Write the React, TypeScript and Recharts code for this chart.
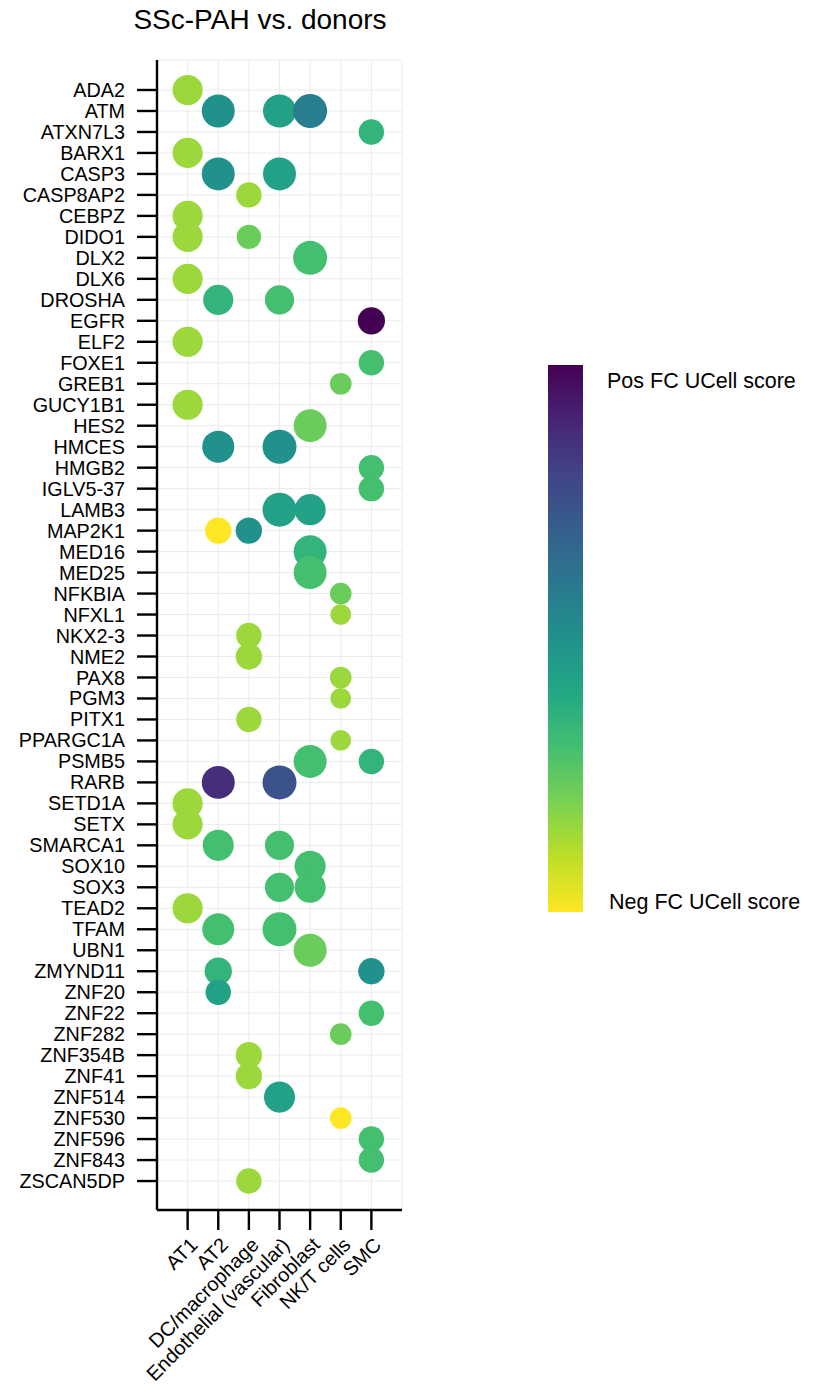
import { ScatterChart, Scatter, XAxis, YAxis, ZAxis, CartesianGrid, Cell } from 'recharts';

const FONT = '"Liberation Sans", Arial, sans-serif';

const genes = [
  'ADA2', 'ATM', 'ATXN7L3', 'BARX1', 'CASP3', 'CASP8AP2', 'CEBPZ', 'DIDO1', 'DLX2', 'DLX6',
  'DROSHA', 'EGFR', 'ELF2', 'FOXE1', 'GREB1', 'GUCY1B1', 'HES2', 'HMCES', 'HMGB2', 'IGLV5-37',
  'LAMB3', 'MAP2K1', 'MED16', 'MED25', 'NFKBIA', 'NFXL1', 'NKX2-3', 'NME2', 'PAX8', 'PGM3',
  'PITX1', 'PPARGC1A', 'PSMB5', 'RARB', 'SETD1A', 'SETX', 'SMARCA1', 'SOX10', 'SOX3', 'TEAD2',
  'TFAM', 'UBN1', 'ZMYND11', 'ZNF20', 'ZNF22', 'ZNF282', 'ZNF354B', 'ZNF41', 'ZNF514', 'ZNF530',
  'ZNF596', 'ZNF843', 'ZSCAN5DP',
];

const cellTypes = ['AT1', 'AT2', 'DC/macrophage', 'Endothelial (vascular)', 'Fibroblast', 'NK/T cells', 'SMC'];

// one entry per dot: gene, cell type, colour score (0 = pos FC / purple, 1 = neg FC / yellow), dot size value
const dotGene = [
  'ADA2', 'ATM', 'ATM', 'ATM', 'ATXN7L3', 'BARX1', 'CASP3', 'CASP3', 'CASP8AP2', 'CEBPZ',
  'DIDO1', 'DIDO1', 'DLX2', 'DLX6', 'DROSHA', 'DROSHA', 'EGFR', 'ELF2', 'FOXE1', 'GREB1',
  'GUCY1B1', 'HES2', 'HMCES', 'HMCES', 'HMGB2', 'IGLV5-37', 'LAMB3', 'LAMB3', 'MAP2K1', 'MAP2K1',
  'MED16', 'MED25', 'NFKBIA', 'NFXL1', 'NKX2-3', 'NME2', 'PAX8', 'PGM3', 'PITX1', 'PPARGC1A',
  'PSMB5', 'PSMB5', 'RARB', 'RARB', 'SETD1A', 'SETX', 'SMARCA1', 'SMARCA1', 'SOX10', 'SOX3',
  'SOX3', 'TEAD2', 'TFAM', 'TFAM', 'UBN1', 'ZMYND11', 'ZMYND11', 'ZNF20', 'ZNF22', 'ZNF282',
  'ZNF354B', 'ZNF41', 'ZNF514', 'ZNF530', 'ZNF596', 'ZNF843', 'ZSCAN5DP',
];
const dotCell = [
  'AT1', 'AT2', 'Endothelial (vascular)', 'Fibroblast', 'SMC', 'AT1', 'AT2', 'Endothelial (vascular)', 'DC/macrophage', 'AT1',
  'AT1', 'DC/macrophage', 'Fibroblast', 'AT1', 'AT2', 'Endothelial (vascular)', 'SMC', 'AT1', 'SMC', 'NK/T cells',
  'AT1', 'Fibroblast', 'AT2', 'Endothelial (vascular)', 'SMC', 'SMC', 'Endothelial (vascular)', 'Fibroblast', 'AT2', 'DC/macrophage',
  'Fibroblast', 'Fibroblast', 'NK/T cells', 'NK/T cells', 'DC/macrophage', 'DC/macrophage', 'NK/T cells', 'NK/T cells', 'DC/macrophage', 'NK/T cells',
  'Fibroblast', 'SMC', 'AT2', 'Endothelial (vascular)', 'AT1', 'AT1', 'AT2', 'Endothelial (vascular)', 'Fibroblast', 'Endothelial (vascular)',
  'Fibroblast', 'AT1', 'AT2', 'Endothelial (vascular)', 'Fibroblast', 'AT2', 'SMC', 'AT2', 'SMC', 'NK/T cells',
  'DC/macrophage', 'DC/macrophage', 'Endothelial (vascular)', 'NK/T cells', 'SMC', 'SMC', 'DC/macrophage',
];
const dotScore = [
  0.85, 0.5, 0.57, 0.42, 0.65, 0.85, 0.5, 0.57, 0.85, 0.85,
  0.85, 0.77, 0.7, 0.85, 0.65, 0.7, 0.0, 0.85, 0.7, 0.77,
  0.85, 0.77, 0.5, 0.5, 0.7, 0.7, 0.57, 0.57, 1.0, 0.5,
  0.65, 0.7, 0.77, 0.85, 0.85, 0.85, 0.85, 0.85, 0.85, 0.85,
  0.7, 0.65, 0.13, 0.25, 0.85, 0.85, 0.7, 0.7, 0.7, 0.7,
  0.7, 0.85, 0.7, 0.7, 0.77, 0.65, 0.5, 0.57, 0.7, 0.77,
  0.85, 0.85, 0.57, 1.0, 0.7, 0.7, 0.85,
];
const dotSize = [
  2.96, 3.7, 3.7, 4.0, 1.85, 2.96, 3.7, 3.7, 1.85, 2.96,
  2.96, 1.65, 4.0, 2.96, 2.96, 2.72, 2.27, 2.96, 1.85, 1.1,
  2.96, 3.7, 3.45, 4.0, 1.85, 1.85, 4.0, 3.2, 2.05, 2.05,
  3.7, 3.7, 1.1, 0.95, 1.85, 2.05, 1.1, 0.95, 1.85, 0.95,
  3.7, 1.85, 3.7, 4.0, 2.96, 2.96, 3.2, 2.72, 3.2, 2.72,
  3.2, 2.96, 3.45, 4.0, 3.7, 2.27, 2.05, 1.85, 1.85, 1.1,
  2.05, 2.05, 3.2, 1.1, 1.85, 1.85, 1.85,
];

const VIRIDIS = ['#440154', '#482475', '#414487', '#355f8d', '#2a788e', '#21918c', '#22a884', '#44bf70', '#7ad151', '#bddf26', '#fde725'];

function hexToRgb(h: string) {
  const n = parseInt(h.slice(1), 16);
  return [(n >> 16) & 255, (n >> 8) & 255, n & 255];
}

function viridis(t: number) {
  const v = Math.max(0, Math.min(1, t)) * (VIRIDIS.length - 1);
  const i = Math.min(Math.floor(v), VIRIDIS.length - 2);
  const f = v - i;
  const a = hexToRgb(VIRIDIS[i]);
  const b = hexToRgb(VIRIDIS[i + 1]);
  const c = a.map((x, k) => Math.round(x + (b[k] - x) * f));
  return `rgb(${c[0]},${c[1]},${c[2]})`;
}

const data = dotGene.map((g, i) => ({
  x: cellTypes.indexOf(dotCell[i]),
  y: genes.indexOf(g),
  score: dotScore[i],
  size: dotSize[i],
}));

function XTick(props: any) {
  const { x, y, payload } = props;
  const tx = x + 1;
  const ty = y + 2;
  return (
    <text
      x={tx}
      y={ty}
      dy="0.72em"
      textAnchor="end"
      transform={`rotate(-45 ${tx} ${ty})`}
      fill="#000"
      fontSize={20}
      fontFamily={FONT}
    >
      {cellTypes[payload.value]}
    </text>
  );
}

export default function App() {
  return (
    <div style={{ position: 'absolute', left: 0, top: 0, width: 818, height: 1393, background: '#fff' }}>
      <ScatterChart width={818} height={1393} margin={{ top: 60, right: 416, bottom: 0, left: 0 }}>
        <CartesianGrid stroke="#ebebeb" strokeWidth={1} />
        <XAxis
          type="number"
          dataKey="x"
          domain={[-1, 7]}
          ticks={[0, 1, 2, 3, 4, 5, 6]}
          interval={0}
          height={183}
          tickSize={20}
          tickMargin={4}
          axisLine={{ stroke: '#000', strokeWidth: 2.4 }}
          tickLine={{ stroke: '#000', strokeWidth: 2.4 }}
          tick={<XTick />}
        />
        <YAxis
          type="number"
          dataKey="y"
          domain={[-1.43, 53.38]}
          reversed
          ticks={genes.map((_, i) => i)}
          interval={0}
          width={157}
          tickSize={20}
          tickMargin={12}
          tickFormatter={(v: number) => genes[v]}
          axisLine={{ stroke: '#000', strokeWidth: 2.4 }}
          tickLine={{ stroke: '#000', strokeWidth: 2.4 }}
          tick={{ fill: '#000', fontSize: 19.8, fontFamily: FONT }}
        />
        <ZAxis type="number" dataKey="size" domain={[1, 4]} range={[340, 908]} />
        <Scatter data={data} isAnimationActive={false}>
          {data.map((d, i) => (
            <Cell key={i} fill={viridis(d.score)} />
          ))}
        </Scatter>
      </ScatterChart>
      <svg width={818} height={1393} style={{ position: 'absolute', left: 0, top: 0, pointerEvents: 'none' }}>
        <defs>
          <linearGradient id="vir" x1="0" y1="0" x2="0" y2="1">
            {VIRIDIS.map((c, i) => (
              <stop key={i} offset={`${(i / (VIRIDIS.length - 1)) * 100}%`} stopColor={c} />
            ))}
          </linearGradient>
        </defs>
        <text x={260} y={29} textAnchor="middle" fontSize={28} fontFamily={FONT} fill="#000">
          SSc-PAH vs. donors
        </text>
        <rect x={548} y={365} width={35} height={547} fill="url(#vir)" />
        <text x={607} y={388} fontSize={21.5} fontFamily={FONT} fill="#000">Pos FC UCell score</text>
        <text x={609} y={909} fontSize={21.5} fontFamily={FONT} fill="#000">Neg FC UCell score</text>
      </svg>
    </div>
  );
}
